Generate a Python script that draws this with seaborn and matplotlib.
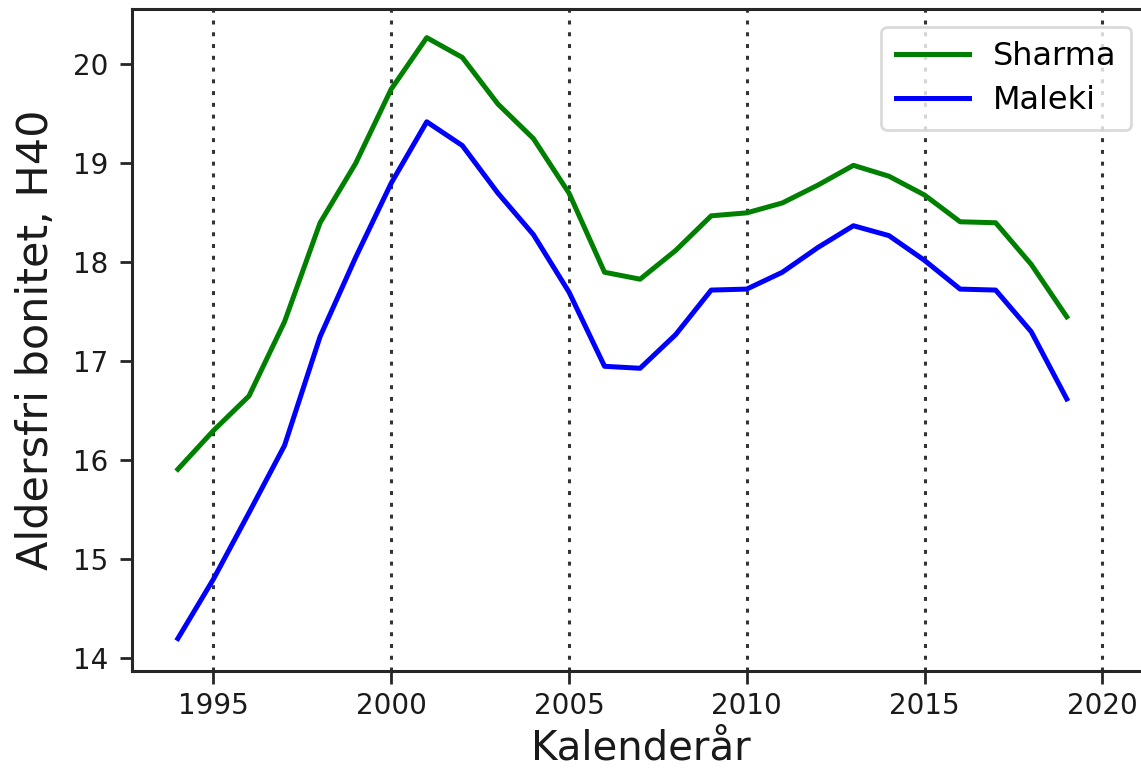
import matplotlib
matplotlib.use("Agg")
import matplotlib.pyplot as plt
import seaborn as sns
import pandas as pd

# Yearly site index (age-free, H40) from two height-growth models
years = list(range(1994, 2020))
sharma = [15.91, 16.30, 16.65, 17.40, 18.40, 19.00, 19.75, 20.27, 20.07, 19.60,
          19.25, 18.70, 17.90, 17.83, 18.12, 18.47, 18.50, 18.60, 18.78, 18.98,
          18.87, 18.68, 18.41, 18.40, 17.98, 17.45]
maleki = [14.20, 14.80, 15.47, 16.15, 17.25, 18.05, 18.80, 19.42, 19.18, 18.70,
          18.28, 17.70, 16.95, 16.93, 17.27, 17.72, 17.73, 17.90, 18.15, 18.37,
          18.27, 18.02, 17.73, 17.72, 17.30, 16.62]
guide_years = [1995, 2000, 2005, 2010, 2015, 2020]
y_ticks = [14, 15, 16, 17, 18, 19, 20]

df = pd.DataFrame({"year": years + years,
                   "h40": sharma + maleki,
                   "model": ["Sharma"] * len(years) + ["Maleki"] * len(years)})

plt.rcParams["font.family"] = ["DejaVu Sans"]

fig = plt.figure(figsize=(11.41, 7.71), dpi=100)
ax = fig.add_axes([0.116, 0.1297, 0.8906, 0.8582])

for gx in guide_years:
    ax.axvline(gx, color="0.2", lw=2.2, linestyle=(0, (1.3, 2.55)), zorder=1)

sns.lineplot(data=df, x="year", y="h40", hue="model",
             palette={"Sharma": "green", "Maleki": "blue"},
             linewidth=3.6, ax=ax, zorder=3)

ax.set_xlim(1992.72, 2021.3)
ax.set_ylim(13.872, 20.556)
ax.set_xticks(guide_years)
ax.set_yticks(y_ticks)

for s in ax.spines.values():
    s.set_linewidth(2.2)
    s.set_color("0.15")

ax.tick_params(axis="both", labelsize=20, length=9, width=2, color="0.15",
               labelcolor="0.1")
ax.tick_params(axis="x", pad=6)
ax.tick_params(axis="y", pad=8)

ax.set_xlabel("Kalenderår", fontsize=29, color="0.1", labelpad=6)
ax.set_ylabel("Aldersfri bonitet, H40", fontsize=31, color="0.1", labelpad=12)

leg = ax.legend(title=None, fontsize=23, loc="upper right", handlelength=2.3,
                handletextpad=0.75, borderpad=0.45, labelspacing=0.4,
                borderaxespad=0.55, fancybox=True, framealpha=0.8)
leg.get_frame().set_linewidth(2)
leg.get_frame().set_edgecolor("0.82")
for line in leg.get_lines():
    line.set_linewidth(3.6)

fig.savefig("out.png", dpi=100)
